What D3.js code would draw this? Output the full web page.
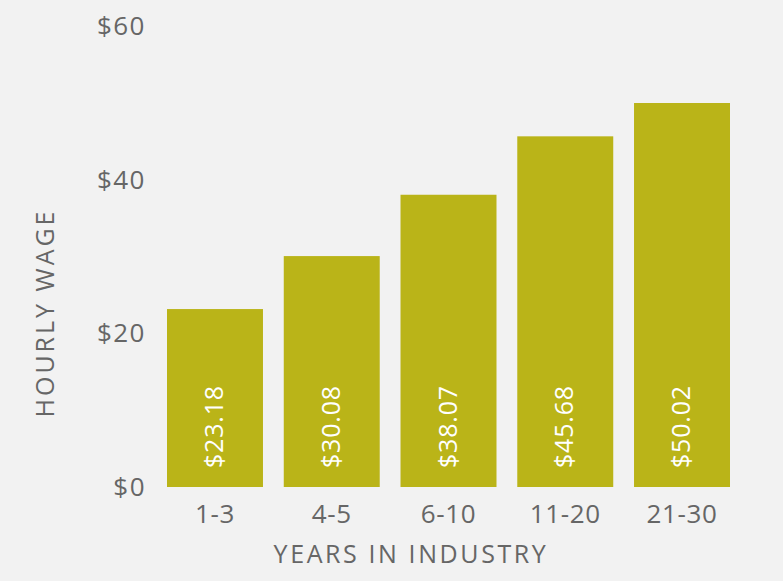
<!DOCTYPE html>
<html>
<head>
<meta charset="utf-8">
<script src="https://cdn.jsdelivr.net/npm/d3@7"></script>
<style>
  body { margin: 0; background: #f2f2f2; }
  svg text { font-family: "Open Sans", sans-serif; font-weight: 400; }
</style>
</head>
<body>
<svg id="chart" width="783" height="581"></svg>
<script>
// ------------------------------
// data
// ------------------------------
var categories = ["1-3", "4-5", "6-10", "11-20", "21-30"];
var wages = [23.18, 30.08, 38.07, 45.68, 50.02];
var yTicks = [0, 20, 40, 60];

var textColor = "#666666";

var svg = d3.select("#chart");

svg.append("rect")
    .attr("width", 783).attr("height", 581)
    .attr("fill", "#f2f2f2");

// scales
var x = d3.scaleBand()
    .domain(categories)
    .range([167, 730])
    .paddingInner(0.178)
    .paddingOuter(0);

var y = d3.scaleLinear()
    .domain([0, 60])
    .range([487, 26.4]);

// bars
svg.selectAll(".bar")
    .data(wages)
  .enter().append("rect")
    .attr("class", "bar")
    .attr("x", function(d, i){ return x(categories[i]) })
    .attr("y", function(d){ return y(d) })
    .attr("width", x.bandwidth())
    .attr("height", function(d){ return y(0) - y(d) })
    .attr("fill", "#bab418");

// value labels inside the bars, rotated
svg.selectAll(".val")
    .data(wages)
  .enter().append("text")
    .attr("class", "val")
    .attr("transform", function(d, i){
        return "translate(" + (x(categories[i]) + x.bandwidth()/2 + 8) + "," + (y(0) - 19) + ") rotate(-90)";
    })
    .attr("fill", "#ffffff")
    .attr("font-size", 25)
    .attr("letter-spacing", 0.8)
    .text(function(d){ return "$" + d.toFixed(2) });

// y axis (no line, no ticks, just labels)
var yAxis = svg.append("g")
    .attr("transform", "translate(146,0)")
    .call(d3.axisLeft(y).tickValues(yTicks).tickSize(0).tickPadding(0)
        .tickFormat(function(d){ return "$" + d }));
yAxis.select(".domain").remove();
yAxis.selectAll("text")
    .attr("fill", textColor)
    .attr("font-size", 26)
    .attr("letter-spacing", 1.5)
    .attr("font-family", null);

// x axis
var xAxis = svg.append("g")
    .attr("transform", "translate(0,487)")
    .call(d3.axisBottom(x).tickSize(0).tickPadding(18));
xAxis.select(".domain").remove();
xAxis.selectAll("text")
    .attr("fill", textColor)
    .attr("font-size", 26)
    .attr("letter-spacing", 0.6)
    .attr("font-family", null);

// axis titles
svg.append("text")
    .attr("x", 411).attr("y", 563)
    .attr("text-anchor", "middle")
    .attr("fill", textColor)
    .attr("font-size", 25)
    .attr("letter-spacing", 2.6)
    .text("YEARS IN INDUSTRY");

svg.append("text")
    .attr("transform", "translate(54,313) rotate(-90)")
    .attr("text-anchor", "middle")
    .attr("fill", textColor)
    .attr("font-size", 25)
    .attr("letter-spacing", 3)
    .text("HOURLY WAGE");
</script>
</body>
</html>
